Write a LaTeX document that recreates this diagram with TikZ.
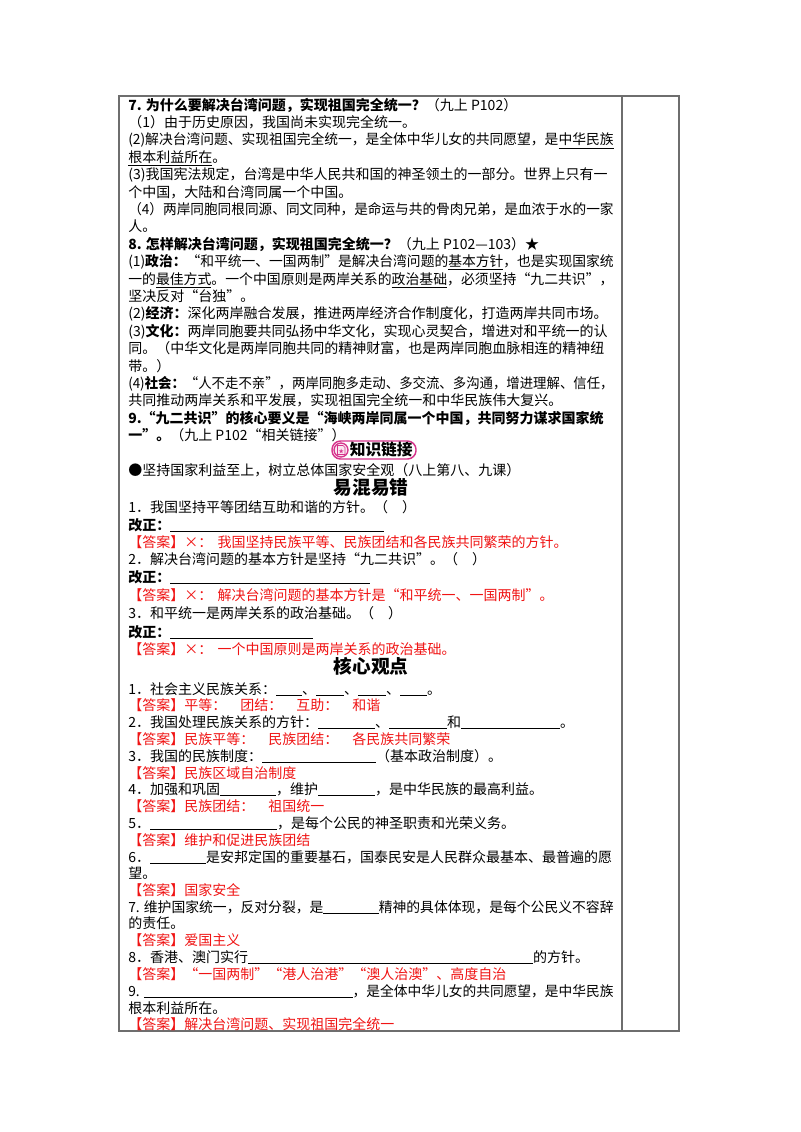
\documentclass[tikz,border=0pt]{standalone}
\usepackage{fontspec}
\usepackage{graphicx}
\setmainfont{Noto Sans CJK SC}
\XeTeXlinebreaklocale "zh"
\XeTeXlinebreakskip=0pt plus 3pt
\newlength\pxu \setlength\pxu{0.75pt}
\newsavebox\lnbox
\newcommand\jl[1]{\sbox\lnbox{#1}\ifdim\wd\lnbox>364pt \resizebox{364pt}{\height}{\usebox\lnbox}\else\hbox to 364pt{#1}\fi}
\newcommand\bl[1]{\rule[-1.6pt]{#1\pxu}{0.6pt}}
\definecolor{ansred}{RGB}{240,20,20}
\definecolor{tblgray}{RGB}{110,110,110}
\definecolor{badge}{RGB}{214,51,140}
\tikzset{
  ln/.style={anchor=base west, inner sep=0pt, font=\fontsize{10.5}{12}\selectfont},
  ans/.style={ln, text=ansred},
  ttl/.style={anchor=base, inner sep=0pt, font=\fontsize{14}{16}\selectfont\bfseries},
  tbl/.style={draw=tblgray, line width=0.8pt}
}
\begin{document}
\begin{tikzpicture}[x=0.75pt,y=-0.75pt]
\useasboundingbox (0,0) rectangle (800,1132);
\fill[white] (0,0) rectangle (800,1132);
\draw[tbl] (119,96) rectangle (679,1031);
\draw[tbl] (622,96) -- (622,1031);
% section 7-9
\node[ln] (t0) at (128,110) {\textbf{7. 为什么要解决台湾问题，实现祖国完全统一？}（九上 P102）};
\node[ln] (t1) at (128,127.4) {（1）由于历史原因，我国尚未实现完全统一。};
\node[ln] (t2) at (128,144.8) {\jl{(2)解决台湾问题、实现祖国完全统一，是全体中华儿女的共同愿望，是\underline{中华民族}}};
\node[ln] (t3) at (128,162.2) {\underline{根本利益所在}。};
\node[ln] (t4) at (128,179.6) {\jl{(3)我国宪法规定，台湾是中华人民共和国的神圣领土的一部分。世界上只有一}};
\node[ln] (t5) at (128,197) {个中国，大陆和台湾同属一个中国。};
\node[ln] (t6) at (128,214.4) {\jl{（4）两岸同胞同根同源、同文同种，是命运与共的骨肉兄弟，是血浓于水的一家}};
\node[ln] (t7) at (128,231.8) {人。};
\node[ln] (t8) at (128,249.2) {\textbf{8. 怎样解决台湾问题，实现祖国完全统一？}（九上 P102—103）★};
\node[ln] (t9) at (128,266.6) {\jl{(1)\textbf{政治：}“和平统一、一国两制”是解决台湾问题的\underline{基本方针}，也是实现国家统}};
\node[ln] (t10) at (128,284) {\jl{一的\underline{最佳方式}。一个中国原则是两岸关系的\underline{政治基础}，必须坚持“九二共识”，}};
\node[ln] (t11) at (128,301.4) {坚决反对“台独”。};
\node[ln] (t12) at (128,318.8) {\jl{(2)\textbf{经济：}深化两岸融合发展，推进两岸经济合作制度化，打造两岸共同市场。}};
\node[ln] (t13) at (128,336.2) {\jl{(3)\textbf{文化：}两岸同胞要共同弘扬中华文化，实现心灵契合，增进对和平统一的认}};
\node[ln] (t14) at (128,353.6) {\jl{同。（中华文化是两岸同胞共同的精神财富，也是两岸同胞血脉相连的精神纽}};
\node[ln] (t15) at (128,371) {带。）};
\node[ln] (t16) at (128,388.4) {\jl{(4)\textbf{社会：}“人不走不亲”，两岸同胞多走动、多交流、多沟通，增进理解、信任，}};
\node[ln] (t17) at (128,405.8) {共同推动两岸关系和平发展，实现祖国完全统一和中华民族伟大复兴。};
\node[ln] (t18) at (128,423.2) {\jl{\textbf{9.“九二共识”的核心要义是“海峡两岸同属一个中国，共同努力谋求国家统}}};
\node[ln] (t19) at (128,440.6) {\textbf{一”。}（九上 P102“相关链接”）};
% badge
\draw[badge, line width=1.1pt, fill=white, rounded corners=8.5\pxu] (332,441) rectangle (416,459);
\node[circle, draw=badge, line width=1pt, fill=badge!12, minimum size=14\pxu, inner sep=0pt] (ic) at (341,450) {};
\draw[badge, line width=0.5pt] (337.5,445.5) -- (343,445.5) -- (345,447.5) -- (345,454.5) -- (337.5,454.5) -- cycle;
\node[text=badge, inner sep=0pt, font=\fontsize{4}{4}\selectfont] (st) at (341.3,451) {★};
\node[anchor=base west, inner sep=0pt, font=\fontsize{11.8}{12}\selectfont\bfseries] (kl) at (349.5,455.5) {知识链接};
\node[ln] (t21) at (128,475.4) {●坚持国家利益至上，树立总体国家安全观（八上第八、九课）};
% 易混易错
\node[ttl] (h1) at (371,494) {易混易错};
\node[ln] (a1) at (128,512) {1．我国坚持平等团结互助和谐的方针。（\quad）};
\node[ln] (a2) at (128,530) {\textbf{改正：}\bl{214}};
\node[ans] (a3) at (128,547) {【答案】×：\hspace{4pt}我国坚持民族平等、民族团结和各民族共同繁荣的方针。};
\node[ln] (a4) at (128,564) {2．解决台湾问题的基本方针是坚持“九二共识”。（\quad）};
\node[ln] (a5) at (128,582) {\textbf{改正：}\bl{200}};
\node[ans] (a6) at (128,600) {【答案】×：\hspace{4pt}解决台湾问题的基本方针是“和平统一、一国两制”。};
\node[ln] (a7) at (128,618) {3．和平统一是两岸关系的政治基础。（\quad）};
\node[ln] (a8) at (128,637) {\textbf{改正：}\bl{143}};
\node[ans] (a9) at (128,654) {【答案】×：\hspace{4pt}一个中国原则是两岸关系的政治基础。};
% 核心观点
\node[ttl] (h2) at (371,673) {核心观点};
\node[ln] (b1) at (128,694) {1．社会主义民族关系：\bl{26}、\bl{28}、\bl{28}、\bl{27}。};
\node[ans] (b2) at (128,710) {【答案】平等：\quad 团结：\quad 互助：\quad 和谐};
\node[ln] (b3) at (128,727) {2．我国处理民族关系的方针：\bl{57}、\bl{58}和\bl{99}。};
\node[ans] (b4) at (128,744) {【答案】民族平等：\quad 民族团结：\quad 各民族共同繁荣};
\node[ln] (b5) at (128,761) {3．我国的民族制度：\bl{114}（基本政治制度）。};
\node[ans] (b6) at (128,778) {【答案】民族区域自治制度};
\node[ln] (b7) at (128,794) {4．加强和巩固\bl{56}，维护\bl{57}，是中华民族的最高利益。};
\node[ans] (b8) at (128,811) {【答案】民族团结：\quad 祖国统一};
\node[ln] (b9) at (128,828) {5．\bl{127}，是每个公民的神圣职责和光荣义务。};
\node[ans] (b10) at (128,845) {【答案】维护和促进民族团结};
\node[ln] (b11) at (128,862) {\jl{6．\bl{56}是安邦定国的重要基石，国泰民安是人民群众最基本、最普遍的愿}};
\node[ln] (b12) at (128,878) {望。};
\node[ans] (b13) at (128,895) {【答案】国家安全};
\node[ln] (b14) at (128,912) {\jl{7. 维护国家统一，反对分裂，是\bl{56}精神的具体体现，是每个公民义不容辞}};
\node[ln] (b15) at (128,928) {的责任。};
\node[ans] (b16) at (128,945) {【答案】爱国主义};
\node[ln] (b17) at (128,962) {8．香港、澳门实行\bl{285}的方针。};
\node[ans] (b18) at (128,979) {【答案】“一国两制”“港人治港”“澳人治澳”、高度自治};
\node[ln] (b19) at (128,996) {\jl{9. \bl{213}，是全体中华儿女的共同愿望，是中华民族}};
\node[ln] (b20) at (128,1013) {根本利益所在。};
\node[ans] (b21) at (128,1029) {【答案】解决台湾问题、实现祖国完全统一};
\end{tikzpicture}
\end{document}
